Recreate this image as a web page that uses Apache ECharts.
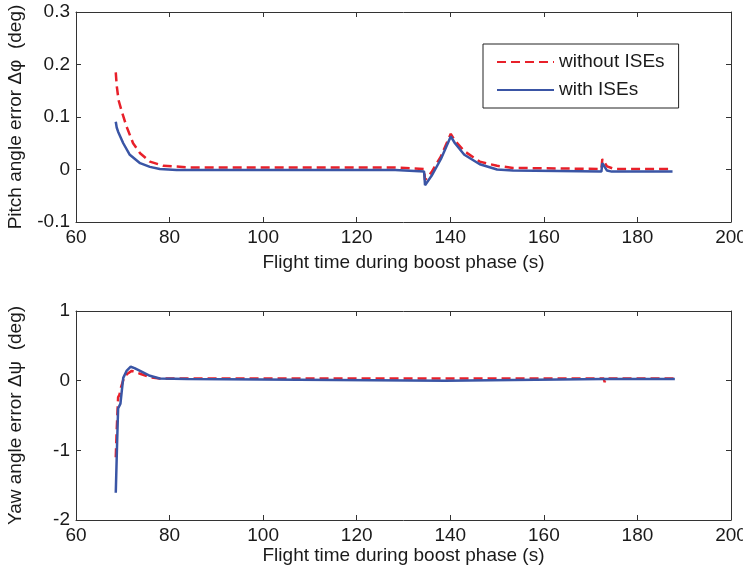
<!DOCTYPE html>
<html>
<head>
<meta charset="utf-8">
<script src="https://cdn.jsdelivr.net/npm/echarts@6/dist/echarts.min.js"></script>
<style>html,body{margin:0;padding:0;background:#fff;}#c{width:743px;height:573px;}</style>
</head>
<body>
<div id="c"></div>
<script>
// ---- Data ----
var seriesNames = ['without ISEs', 'with ISEs'];
var xTicks = [60, 80, 100, 120, 140, 160, 180, 200];
var pitchTicks = [-0.1, 0, 0.1, 0.2, 0.3];
var yawTicks = [-2, -1, 0, 1];

// Pitch, without ISEs
var pitchWithoutT = [68.5, 68.7, 69.1, 69.8, 70.8, 72.2, 73.7, 75.8, 78.7, 84.4, 128.0, 128.2, 134.4, 134.6, 136.0, 138.0, 140.1, 141.0, 143.0, 146.3, 150.0, 153.4, 172.3, 172.5, 173.5, 175.0, 187.5];
var pitchWithoutV = [0.185, 0.16, 0.132, 0.11, 0.082, 0.05, 0.031, 0.015, 0.007, 0.004, 0.004, 0.001, 0.001, -0.02, -0.005, 0.025, 0.068, 0.055, 0.035, 0.015, 0.007, 0.003, 0.001, 0.02, 0.006, 0.001, 0.001];
// Pitch, with ISEs
var pitchWithT = [68.5, 68.7, 69.0, 70.1, 71.5, 73.7, 75.8, 77.9, 81.5, 128.2, 128.4, 134.4, 134.6, 136.0, 138.0, 140.1, 141.0, 143.0, 146.3, 150.0, 153.4, 153.6, 172.3, 172.5, 173.5, 174.5, 187.5];
var pitchWithV = [0.091, 0.08, 0.072, 0.05, 0.028, 0.012, 0.005, 0.001, -0.001, -0.001, -0.004, -0.004, -0.03, -0.012, 0.02, 0.063, 0.05, 0.028, 0.01, 0.0, -0.002, -0.004, -0.004, 0.012, -0.002, -0.004, -0.004];
// Yaw, without ISEs
var yawWithoutT = [68.5, 68.7, 69.0, 69.3, 69.6, 70.3, 71.0, 71.9, 73.7, 75.8, 77.9, 84.0, 139.0, 172.8, 173.0, 173.3, 188.0];
var yawWithoutV = [-1.1, -0.71, -0.24, -0.2, -0.1, 0.05, 0.1, 0.14, 0.1, 0.05, 0.03, 0.03, 0.03, 0.03, -0.02, 0.03, 0.03];
// Yaw, with ISEs
var yawWithT = [68.5, 68.8, 69.0, 69.1, 69.5, 69.8, 70.1, 70.8, 71.7, 72.5, 73.7, 75.8, 77.9, 83.8, 84.0, 139.0, 139.2, 172.8, 173.0, 173.2, 188.0];
var yawWithV = [-1.61, -0.86, -0.4, -0.38, -0.33, -0.14, 0.04, 0.14, 0.2, 0.18, 0.14, 0.07, 0.03, 0.025, 0.0, 0.0, 0.025, 0.025, 0.01, 0.025, 0.025];

function pairs(t, v) { return t.map(function (x, i) { return [x, v[i]]; }); }

var FONT = 'Liberation Sans, Arial, sans-serif';
var FS = 19;
var TXT = '#1a1a1a';
var AX = '#333333';
var RED = '#e8202a';
var BLUE = '#3a55a5';

function fmtY(v) {
  var r = Math.round(v * 10) / 10;
  if (r === 0) return '0';
  return String(r);
}

function xAxes(gi, gap) {
  return [
    {
      type: 'value', gridIndex: gi, min: xTicks[0], max: xTicks[xTicks.length - 1], interval: 20,
      position: 'bottom',
      name: 'Flight time during boost phase (s)', nameLocation: 'middle', nameGap: gap,
      nameTextStyle: { fontFamily: FONT, fontSize: FS, color: TXT },
      axisLine: { show: true, onZero: false, lineStyle: { color: AX, width: 1 } },
      axisTick: { show: true, inside: true, length: 5, lineStyle: { color: AX } },
      axisLabel: { fontFamily: FONT, fontSize: FS, color: TXT, margin: 6 },
      splitLine: { show: false }
    },
    {
      type: 'value', gridIndex: gi, min: xTicks[0], max: xTicks[xTicks.length - 1], interval: 20,
      position: 'top',
      axisLine: { show: true, onZero: false, lineStyle: { color: AX, width: 1 } },
      axisTick: { show: true, inside: true, length: 5, lineStyle: { color: AX } },
      axisLabel: { show: false },
      splitLine: { show: false }
    }
  ];
}

function yAxes(gi, ticks, interval, title) {
  return [
    {
      type: 'value', gridIndex: gi, min: ticks[0], max: ticks[ticks.length - 1], interval: interval,
      position: 'left',
      name: title, nameLocation: 'middle', nameGap: 51, nameRotate: 90,
      nameTextStyle: { fontFamily: FONT, fontSize: FS, color: TXT },
      axisLine: { show: true, onZero: false, lineStyle: { color: AX, width: 1 } },
      axisTick: { show: true, inside: true, length: 5, lineStyle: { color: AX } },
      axisLabel: { fontFamily: FONT, fontSize: FS, color: TXT, margin: 6, formatter: fmtY },
      splitLine: { show: false }
    },
    {
      type: 'value', gridIndex: gi, min: ticks[0], max: ticks[ticks.length - 1], interval: interval,
      position: 'right',
      axisLine: { show: true, onZero: false, lineStyle: { color: AX, width: 1 } },
      axisTick: { show: true, inside: true, length: 5, lineStyle: { color: AX } },
      axisLabel: { show: false },
      splitLine: { show: false }
    }
  ];
}

var chart = echarts.init(document.getElementById('c'), null, { renderer: 'canvas' });
chart.setOption({
  animation: false,
  backgroundColor: '#ffffff',
  grid: [
    { left: 76, top: 12, width: 655, height: 210, containLabel: false, outerBoundsMode: 'none' },
    { left: 76, top: 311, width: 655, height: 209, containLabel: false, outerBoundsMode: 'none' }
  ],
  xAxis: xAxes(0, 31).concat(xAxes(1, 23)),
  yAxis: yAxes(0, pitchTicks, 0.1, 'Pitch angle error \u0394\u03C6  (deg)').concat(yAxes(1, yawTicks, 1, 'Yaw angle error \u0394\u03C8  (deg)')),
  legend: {
    data: seriesNames,
    orient: 'vertical',
    left: 483, top: 44,
    padding: [7, 14, 7, 13],
    itemWidth: 57, itemHeight: 14, itemGap: 6,
    itemStyle: { opacity: 0 },
    backgroundColor: '#ffffff',
    borderColor: '#222222', borderWidth: 1,
    textStyle: { fontFamily: FONT, fontSize: FS, color: TXT, lineHeight: 22 }
  },
  series: [
    {
      name: seriesNames[0], type: 'line', xAxisIndex: 0, yAxisIndex: 0, symbol: 'none',
      data: pairs(pitchWithoutT, pitchWithoutV), z: 2,
      itemStyle: { color: RED },
      lineStyle: { color: RED, width: 2.5, type: [9, 5] }
    },
    {
      name: seriesNames[1], type: 'line', xAxisIndex: 0, yAxisIndex: 0, symbol: 'none',
      data: pairs(pitchWithT, pitchWithV), z: 3,
      itemStyle: { color: BLUE },
      lineStyle: { color: BLUE, width: 2.5 }
    },
    {
      name: seriesNames[0], type: 'line', xAxisIndex: 2, yAxisIndex: 2, symbol: 'none',
      data: pairs(yawWithoutT, yawWithoutV), z: 2,
      itemStyle: { color: RED },
      lineStyle: { color: RED, width: 2.5, type: [9, 5] }
    },
    {
      name: seriesNames[1], type: 'line', xAxisIndex: 2, yAxisIndex: 2, symbol: 'none',
      data: pairs(yawWithT, yawWithV), z: 3,
      itemStyle: { color: BLUE },
      lineStyle: { color: BLUE, width: 2.5 }
    }
  ]
});
</script>
</body>
</html>
